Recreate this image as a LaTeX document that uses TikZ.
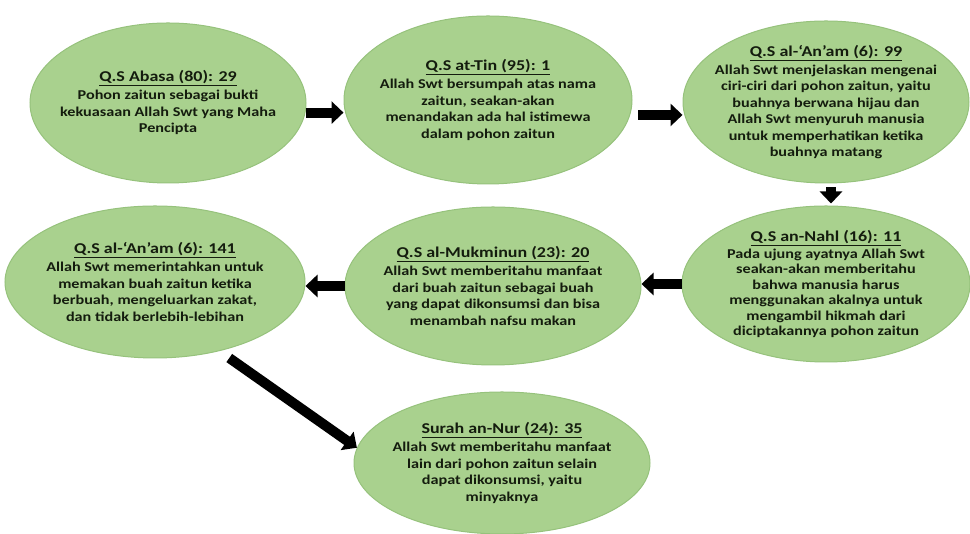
\documentclass[tikz,border=0pt]{standalone}
\usepackage{fontspec}
\setmainfont{Carlito}[FakeStretch=1.2]
\usepackage{tikz}
\usetikzlibrary{shapes.geometric,arrows.meta}
\definecolor{leaf}{HTML}{A9D18E}
\definecolor{leafrim}{HTML}{96C27C}
\definecolor{ink}{HTML}{141C0E}
\newcommand{\ayat}[1]{{\fontsize{15}{18}\selectfont\underline{#1}}\\[1.5pt]}

\begin{document}
\begin{tikzpicture}[x=1pt,y=1pt,
	bubble/.style={ellipse, fill=leaf, draw=leafrim, line width=1pt, inner xsep=-60pt, inner ysep=-40pt, align=center, text=ink, font=\bfseries\fontsize{13.5}{16.5}\selectfont},
	flow/.style={line width=10pt, -{Triangle[length=12pt,width=22pt]}}]
	\useasboundingbox (0,0) rectangle (970,534);
	% top row
	\node[bubble, minimum width=276pt, minimum height=160pt] (abasa) at (168,431)
		{\ayat{Q.S Abasa (80): 29}Pohon zaitun sebagai bukti\\kekuasaan Allah Swt yang Maha\\Pencipta};
	\node[bubble, minimum width=288pt, minimum height=168pt] (tin) at (488,434)
		{\ayat{Q.S at-Tin (95): 1}Allah Swt bersumpah atas nama\\zaitun, seakan-akan\\menandakan ada hal istimewa\\dalam pohon zaitun};
	\node[bubble, minimum width=286pt, minimum height=162pt] (anam99) at (826,432)
		{\ayat{Q.S al-‘An’am (6): 99}Allah Swt menjelaskan mengenai\\ciri-ciri dari pohon zaitun, yaitu\\buahnya berwana hijau dan\\Allah Swt menyuruh manusia\\untuk memperhatikan ketika\\buahnya matang};
	% middle row
	\node[bubble, minimum width=288pt, minimum height=156pt, font=\bfseries\fontsize{13.5}{15.5}\selectfont] (nahl) at (826,250)
		{\ayat{Q.S an-Nahl (16): 11}Pada ujung ayatnya Allah Swt\\seakan-akan memberitahu\\bahwa manusia harus\\menggunakan akalnya untuk\\mengambil hikmah dari\\diciptakannya pohon zaitun};
	\node[bubble, minimum width=296pt, minimum height=158pt] (mukminun) at (493,248)
		{\ayat{Q.S al-Mukminun (23): 20}Allah Swt memberitahu manfaat\\dari buah zaitun sebagai buah\\yang dapat dikonsumsi dan bisa\\menambah nafsu makan};
	\node[bubble, minimum width=300pt, minimum height=152pt] (anam141) at (155,252)
		{\ayat{Q.S al-‘An’am (6): 141}Allah Swt memerintahkan untuk\\memakan buah zaitun ketika\\berbuah, mengeluarkan zakat,\\dan tidak berlebih-lebihan};
	% bottom
	\node[bubble, minimum width=296pt, minimum height=142pt] (nur) at (502,71)
		{\ayat{Surah an-Nur (24): 35}Allah Swt memberitahu manfaat\\lain dari pohon zaitun selain\\dapat dikonsumsi, yaitu\\minyaknya};

	\draw[flow] (abasa.-4) -- (abasa.-4 -| tin.west);
	\draw[flow] ([xshift=8pt]tin.-6) -- (tin.-6 -| anam99.west);
	\draw[flow, shorten <=4pt, shorten >=2pt] ([xshift=5pt]anam99.south) -- ([xshift=5pt]anam99.south |- nahl.north);
	\draw[flow] (nahl.west) -- (nahl.west -| mukminun.east);
	\draw[flow] (mukminun.west) -- (mukminun.west -| anam141.east);
	\draw[flow, shorten <=12pt] (anam141.-47) -- (nur.174);
\end{tikzpicture}
\end{document}
